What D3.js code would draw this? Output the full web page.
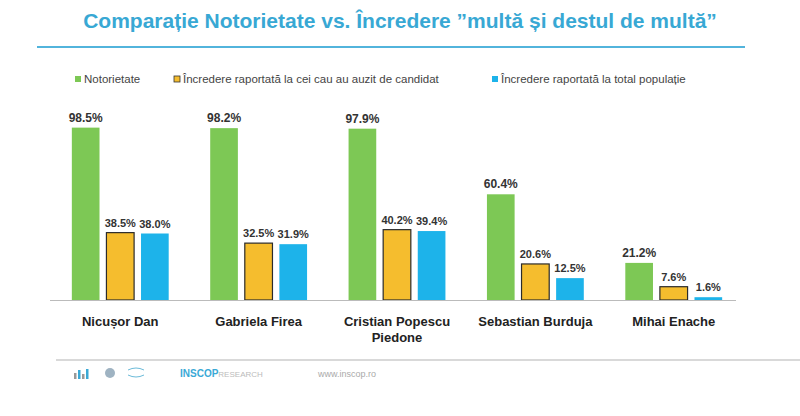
<!DOCTYPE html>
<html><head><meta charset="utf-8">
<script src="https://cdn.jsdelivr.net/npm/d3@7"></script>
<style>body{margin:0;background:#fff;font-family:"Liberation Sans",Arial,sans-serif}</style>
</head><body><svg id="c" width="800" height="416"></svg>
<script>
const candidates = ["Nicușor Dan", "Gabriela Firea", "Cristian Popescu\nPiedone", "Sebastian Burduja", "Mihai Enache"];
const seriesNames = ["Notorietate", "Încredere raportată la cei cau au auzit de candidat", "Încredere raportată la total populație"];
const notorietate = [98.5, 98.2, 97.9, 60.4, 21.2];
const incredereAuzit = [38.5, 32.5, 40.2, 20.6, 7.6];
const incredereTotal = [38.0, 31.9, 39.4, 12.5, 1.6];
const colors = ["#7dc855", "#f5bd2e", "#1db3ea"];

const svg = d3.select("#c");
svg.append("text").attr("x", 400).attr("y", 28).attr("text-anchor", "middle")
  .style("font-size", "21px").style("font-weight", "bold").style("fill", "#38a8d4")
  .text("Comparație Notorietate vs. Încredere ”multă și destul de multă”");
svg.append("line").attr("x1", 37).attr("x2", 745).attr("y1", 47).attr("y2", 47)
  .attr("stroke", "#52b4dc").attr("stroke-width", 2);

// legend
const legX = [75, 174, 492];
seriesNames.forEach((n, i) => {
  svg.append("rect").attr("x", legX[i]).attr("y", 76).attr("width", 6).attr("height", 6)
    .attr("fill", colors[i]).attr("stroke", i === 1 ? "#333" : "none").attr("stroke-width", 0.8);
  svg.append("text").attr("x", legX[i] + 9).attr("y", 83).style("font-size", "11.5px")
    .style("fill", "#444").text(n);
});

const x0 = d3.scaleBand().domain(candidates).range([58, 736]).paddingInner(0.3).paddingOuter(0.1);
const x1 = d3.scaleBand().domain([0, 1, 2]).range([0, x0.bandwidth()]).paddingInner(0.2);
const y = d3.scaleLinear().domain([0, 100]).range([300, 125]);
const series = [notorietate, incredereAuzit, incredereTotal];

candidates.forEach((c, ci) => {
  const g = svg.append("g").attr("transform", `translate(${x0(c)},0)`);
  series.forEach((s, si) => {
    g.append("rect").attr("x", x1(si)).attr("y", y(s[ci])).attr("width", x1.bandwidth())
      .attr("height", y(0) - y(s[ci])).attr("fill", colors[si])
      .attr("stroke", si === 1 ? "#2b2b2b" : "none").attr("stroke-width", 1.2);
    g.append("text").attr("x", x1(si) + x1.bandwidth() / 2).attr("y", y(s[ci]) - 6)
      .attr("text-anchor", "middle").style("font-size", si === 0 ? "12px" : "11px")
      .style("font-weight", "bold").style("fill", "#333").text(s[ci].toFixed(1) + "%");
  });
  const t = svg.append("text").attr("x", x0(c) + x0.bandwidth() / 2).attr("y", 326)
    .attr("text-anchor", "middle").style("font-size", "13px").style("font-weight", "bold").style("fill", "#222");
  c.split("\n").forEach((l, li) => t.append("tspan").attr("x", x0(c) + x0.bandwidth() / 2).attr("dy", li ? 16 : 0).text(l));
});
svg.append("line").attr("x1", 50).attr("x2", 736).attr("y1", 300.5).attr("y2", 300.5).attr("stroke", "#bbb");

// footer
svg.append("line").attr("x1", 56).attr("x2", 800).attr("y1", 360).attr("y2", 360).attr("stroke", "#ccc").attr("stroke-width", 1.5);
[[74, 6], [78, 9], [82, 5], [86, 10]].forEach(([bx, h], i) => svg.append("rect").attr("x", bx).attr("y", 379 - h)
  .attr("width", 2.5).attr("height", h).attr("fill", i % 2 ? "#3aa9d6" : "#999"));
svg.append("circle").attr("cx", 110).attr("cy", 373).attr("r", 5).attr("fill", "#9fb3c2");
svg.append("path").attr("d", "M128 370 q8 -4 16 0 M128 375 q8 4 16 0").attr("stroke", "#6cbbd9").attr("fill", "none");
svg.append("text").attr("x", 180).attr("y", 377).style("font-size", "10px").style("font-weight", "bold").style("fill", "#3aa9d6")
  .text("INSCOP").append("tspan").style("font-weight", "normal").style("fill", "#bbb").style("font-size", "8px").text("RESEARCH");
svg.append("text").attr("x", 318).attr("y", 377).style("font-size", "9px").style("fill", "#aaa").text("www.inscop.ro");
</script></body></html>
